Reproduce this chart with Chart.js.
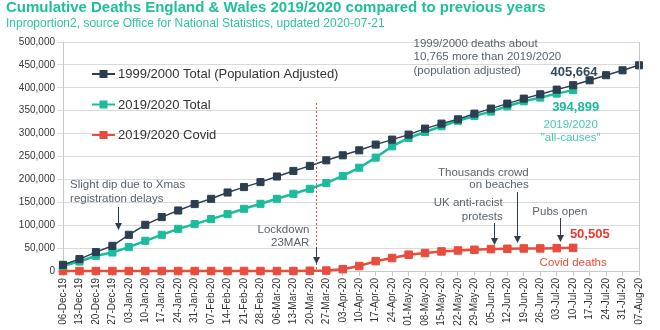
<!DOCTYPE html>
<html><head><meta charset="utf-8">
<script src="https://cdn.jsdelivr.net/npm/chart.js@4.4.1/dist/chart.umd.min.js"></script>
<style>html,body{margin:0;padding:0;background:#fff}#wrap{width:660px;height:330px;position:relative}</style>
</head><body><div id="wrap"><canvas id="c" width="660" height="330"></canvas></div>
<script>
const categories = ['06-Dec-19','13-Dec-19','20-Dec-19','27-Dec-19','03-Jan-20','10-Jan-20','17-Jan-20','24-Jan-20','31-Jan-20','07-Feb-20','14-Feb-20','21-Feb-20','28-Feb-20','06-Mar-20','13-Mar-20','20-Mar-20','27-Mar-20','03-Apr-20','10-Apr-20','17-Apr-20','24-Apr-20','01-May-20','08-May-20','15-May-20','22-May-20','29-May-20','05-Jun-20','12-Jun-20','19-Jun-20','26-Jun-20','03-Jul-20','10-Jul-20','17-Jul-20','24-Jul-20','31-Jul-20','07-Aug-20'];
const total1999 = [13500,26000,41300,55000,79000,100900,117700,132100,146100,157600,171400,183200,194100,206300,218500,229500,241700,252600,263500,276000,286900,297800,310900,321800,331200,343600,354600,365500,376400,385800,396000,405664,416400,427500,438200,449100];
const total2020 = [11400,20700,33200,40400,52200,65900,79000,92100,102400,113300,124200,135800,146700,157600,168600,179500,192000,207500,225500,247600,272300,290400,303500,316000,328000,338500,348000,359600,370500,378600,387300,394899];
const covid2020 = [0,0,0,0,0,0,0,0,0,0,0,0,0,0,0,500,1000,4000,10800,21500,28400,35600,39200,42700,44900,46300,47800,48500,49200,49300,49900,50505];
const seriesNames = ['1999/2000 Total (Population Adjusted)','2019/2020 Total','2019/2020 Covid'];
const yMin = 0, yMax = 500000, yStep = 50000;

const NAVY='#2c3e50', TEAL='#1abc9c', RED='#e74c3c', NOTE='#59636e';
const FONT='"Liberation Sans", Arial, sans-serif';

const deco = {
  id:'deco',
  afterDraw(chart){
    const ctx=chart.ctx, xs=chart.scales.x, ys=chart.scales.y, a=chart.chartArea;
    const x0=xs.getPixelForValue(0), x1=xs.getPixelForValue(1);
    const X=i=>x0+i*(x1-x0), Y=v=>ys.getPixelForValue(v);
    ctx.save();
    ctx.strokeStyle='#c8c8c8'; ctx.lineWidth=1;
    ctx.beginPath(); ctx.moveTo(Math.round(a.right)+0.5,a.top); ctx.lineTo(Math.round(a.right)+0.5,a.bottom); ctx.stroke();
    ctx.textBaseline='alphabetic'; ctx.textAlign='left';
    ctx.fillStyle='#1fbf9a'; ctx.font='bold 15px '+FONT; ctx.fillText('Cumulative Deaths England & Wales 2019/2020 compared to previous years',6,12);
    ctx.fillStyle='#2cc5a2'; ctx.font='12px '+FONT; ctx.fillText('Inproportion2, source Office for National Statistics, updated 2020-07-21',6,27);
    const ds=chart.data.datasets;
    ds.forEach((d,k)=>{
      const ly=a.top+32+k*30.5, lx=a.left+29;
      ctx.strokeStyle=d.borderColor; ctx.lineWidth=2;
      ctx.beginPath(); ctx.moveTo(lx,ly); ctx.lineTo(lx+23,ly); ctx.stroke();
      ctx.fillStyle=d.borderColor; ctx.fillRect(lx+7.5,ly-4,8,8);
      ctx.fillStyle='#333'; ctx.font='13px '+FONT; ctx.textBaseline='middle'; ctx.textAlign='left';
      ctx.fillText(d.label,lx+26,ly+0.5);
    });
    ctx.strokeStyle=RED; ctx.lineWidth=1; ctx.setLineDash([2,2]);
    ctx.beginPath(); ctx.moveTo(Math.round(X(15.35))+0.5,Y(366800)); ctx.lineTo(Math.round(X(15.35))+0.5,Y(0)); ctx.stroke();
    ctx.setLineDash([]);
    const arrow=(i,v1,v2)=>{
      const x=Math.round(X(i))+0.5, ya=Y(v1), yb=Y(v2);
      ctx.strokeStyle=NAVY; ctx.fillStyle=NAVY; ctx.lineWidth=1;
      ctx.beginPath(); ctx.moveTo(x,ya); ctx.lineTo(x,yb-6); ctx.stroke();
      ctx.beginPath(); ctx.moveTo(x-3.5,yb-7); ctx.lineTo(x+3.5,yb-7); ctx.lineTo(x,yb); ctx.closePath(); ctx.fill();
    };
    const text=(s,i,v,align,color,font)=>{
      ctx.fillStyle=color; ctx.font=font; ctx.textAlign=align; ctx.textBaseline='middle';
      ctx.fillText(s,X(i),Y(v));
    };
    const nf='11.5px '+FONT;
    text('Slight dip due to Xmas',0.43,187800,'left',NOTE,nf);
    text('registration delays',0.43,157200,'left',NOTE,nf);
    arrow(3.33,139700,89500);
    text('Lockdown',14.97,89500,'right',NOTE,nf);
    text('23MAR',14.97,62000,'right',NOTE,nf);
    arrow(15.35,52400,15300);
    text('1999/2000 deaths about',21.3,495600,'left',NOTE,nf);
    text('10,765 more than 2019/2020',21.3,467200,'left',NOTE,nf);
    text('(population adjusted)',21.3,436700,'left',NOTE,nf);
    text('405,664',31.05,434500,'center','#34495e','bold 13px '+FONT);
    text('394,899',31.15,358100,'center',TEAL,'bold 13px '+FONT);
    text('2019/2020',30.85,318800,'center','#48c9b0',nf);
    text('"all-causes"',30.85,290400,'center','#48c9b0',nf);
    text('Thousands crowd',28.3,214000,'right',NOTE,nf);
    text('on beaches',28.3,187800,'right',NOTE,nf);
    arrow(27.57,172500,61100);
    text('UK anti-racist',26.72,148500,'right',NOTE,nf);
    text('protests',26.72,117900,'right',NOTE,nf);
    arrow(26.17,104800,56800);
    text('Pubs open',30.19,128800,'center',NOTE,nf);
    arrow(30.19,115700,63300);
    text('50,505',30.8,80800,'left','#e53a2f','bold 13px '+FONT);
    text('Covid deaths',31.0,17500,'center',RED,nf);
    ctx.restore();
  }
};

new Chart(document.getElementById('c'),{
  type:'line',
  data:{
    labels:categories,
    datasets:[
      {label:seriesNames[0],data:total1999,borderColor:NAVY,backgroundColor:NAVY,borderWidth:1.5,pointStyle:'rect',pointRadius:5,pointBorderWidth:1,tension:0,clip:false},
      {label:seriesNames[1],data:total2020,borderColor:TEAL,backgroundColor:TEAL,borderWidth:2.5,pointStyle:'rect',pointRadius:5,pointBorderWidth:1,tension:0,clip:false},
      {label:seriesNames[2],data:covid2020,borderColor:RED,backgroundColor:RED,borderWidth:2.5,pointStyle:'rect',pointRadius:5.3,pointBorderWidth:1,tension:0,clip:false}
    ]
  },
  options:{
    responsive:false, animation:false, devicePixelRatio:1,
    layout:{padding:{top:42,right:21,left:0,bottom:0}},
    plugins:{legend:{display:false},tooltip:{enabled:false},title:{display:false}},
    scales:{
      x:{
        offset:false,
        grid:{drawOnChartArea:false,drawTicks:true,tickLength:5,color:'#c8c8c8'},
        border:{color:'#c8c8c8'},
        ticks:{autoSkip:false,minRotation:90,maxRotation:90,padding:2,color:'#333',font:{family:FONT,size:10}},
        afterFit(s){s.height=59;}
      },
      y:{
        min:yMin,max:yMax,
        grid:{color:'#dadada',tickLength:6},
        border:{color:'#c8c8c8'},
        ticks:{stepSize:yStep,padding:2,color:'#333',font:{family:FONT,size:10},callback:v=>v.toLocaleString('en-US')},
        afterFit(s){s.width=63;}
      }
    }
  },
  plugins:[deco]
});
</script></body></html>
